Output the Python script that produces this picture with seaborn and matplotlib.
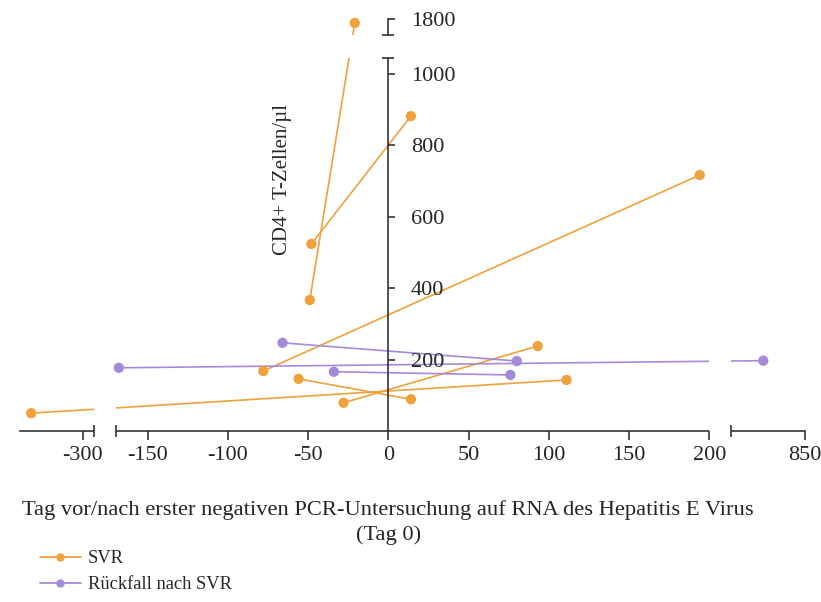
import numpy as np
import pandas as pd
import matplotlib
matplotlib.use("Agg")
import matplotlib.pyplot as plt
from matplotlib.lines import Line2D
import seaborn as sns

# values (two time points per patient)
patients = [1, 1, 2, 2, 3, 3, 4, 4, 5, 5, 6, 6, 7, 7, 8, 8, 9, 9]
groups = ["SVR"] * 12 + ["Rückfall nach SVR"] * 6
days = [-332, 111, -49, -21, -48, 14, -78, 194, -56, 14, -28, 93,
        -168, 824, -66, 80, -34, 76]
cd4 = [50, 143, 367, 1790, 524, 882, 168, 717, 146, 89, 79, 238,
       177, 197, 247, 196, 166, 157]

x_ticks = [-300, -150, -100, -50, 0, 50, 100, 150, 200, 850]
y_ticks = [200, 400, 600, 800, 1000, 1800]
group_order = ["SVR", "Rückfall nach SVR"]
colors = {"SVR": "#EFA13C", "Rückfall nach SVR": "#A68ADA"}

# broken axes: shown pieces of each axis
x_pieces = [(-339, -293), (-170, 200), (804, 850)]
y_pieces = [(0, 1045), (1755, 1800)]
x_gap = 13.6   # width of the x breaks in axis units
y_gap = 63     # height of the y break in axis units

df = pd.DataFrame({"patient": patients, "gruppe": groups, "tag": days, "cd4": cd4})


def broken_scale(pieces, gap):
    # piecewise linear map that squeezes the hidden parts into a fixed gap
    src, dst = [], []
    pos = 0.0
    for i, (a, b) in enumerate(pieces):
        if i == 0:
            pos = a
        src += [a, b]
        dst += [pos, pos + (b - a)]
        pos = pos + (b - a) + gap
    src = [src[0] - 1e6] + src + [src[-1] + 1e6]
    dst = [dst[0] - 1e6] + dst + [dst[-1] + 1e6]

    def fwd(v):
        return np.interp(np.asarray(v, float), src, dst)

    def inv(v):
        return np.interp(np.asarray(v, float), dst, src)
    return fwd, inv


sns.set_theme(style="white")
plt.rcParams["font.family"] = ["Liberation Serif", "DejaVu Serif"]
plt.rcParams["axes.unicode_minus"] = False

fig = plt.figure(figsize=(8.21, 6.02), dpi=100)
ax = fig.add_axes([20 / 821, 171 / 602, 785 / 821, 411.6 / 602])

sns.lineplot(data=df, x="tag", y="cd4", hue="gruppe", units="patient",
             estimator=None, palette=colors, hue_order=group_order,
             legend=False, lw=1.2, ax=ax)
sns.scatterplot(data=df, x="tag", y="cd4", hue="gruppe", palette=colors,
                hue_order=group_order, s=55, edgecolor="none", legend=False,
                zorder=4, clip_on=False, ax=ax)

ax.set_xscale("function", functions=broken_scale(x_pieces, x_gap))
ax.set_yscale("function", functions=broken_scale(y_pieces, y_gap))
ax.set_xlim(x_pieces[0][0], x_pieces[-1][1])
ax.set_ylim(0, y_pieces[-1][1])

# white bands make the breaks (they also cut the lines and the axis lines)
for (a, b), (c, d) in zip(x_pieces[:-1], x_pieces[1:]):
    ax.axvspan(b, c, ymin=-0.03, ymax=1, color="white", lw=0, zorder=2.6, clip_on=False)
ax.axhspan(y_pieces[0][1], y_pieces[1][0], color="white", lw=0, zorder=2.6)

for s in ["left", "top"]:
    ax.spines[s].set_visible(False)
ax.spines["bottom"].set_position(("data", 0))
ax.spines["right"].set_position(("data", 0))
ax.spines["bottom"].set_bounds(x_pieces[0][0], x_pieces[-1][1])
ax.spines["right"].set_bounds(0, y_pieces[-1][1])
for s in ["bottom", "right"]:
    ax.spines[s].set_color("#333333")
    ax.spines[s].set_linewidth(1.2)
    ax.spines[s].set_zorder(2.5)

ax.yaxis.tick_right()
ax.set_xticks(x_ticks, labels=[str(t) for t in x_ticks])
ax.set_yticks(y_ticks, labels=[str(t) for t in y_ticks])
# end caps at the breaks
ax.set_xticks([x_pieces[0][1], x_pieces[1][0], x_pieces[1][1], x_pieces[2][0]], minor=True)
ax.set_yticks([y_pieces[0][1], y_pieces[1][0]], minor=True)
ax.tick_params(axis="x", which="major", direction="out", length=6.5, width=1.2,
               color="#333333", labelsize=16, pad=4, bottom=True)
ax.tick_params(axis="y", which="major", direction="out", length=5, width=1.2,
               color="#333333", labelsize=16, pad=11, right=True, left=False)
ax.tick_params(which="minor", direction="inout", length=8, width=1.2,
               color="#333333", bottom=True, right=True, left=False)
ax.xaxis.set_zorder(3)
ax.yaxis.set_zorder(3)

ax.set_ylabel("CD4+ T-Zellen/µl", fontsize=15)
ax.yaxis.set_label_position("left")
ax.yaxis.set_label_coords(0.3465, 0.61)
ax.set_xlabel("Tag vor/nach erster negativen PCR-Untersuchung auf RNA des Hepatitis E Virus\n(Tag 0)",
              fontsize=16.2, linespacing=1.35)
ax.xaxis.set_label_coords(0.469, -0.168)

handles = [Line2D([], [], color=colors[g], lw=1.3, marker="o", markersize=6,
                  markeredgewidth=0) for g in group_order]
fig.legend(handles, group_order, loc="upper left", bbox_to_anchor=(40 / 821, 1 - 550 / 602),
           frameon=False, fontsize=13.3, handlelength=2.2, handletextpad=0.4,
           labelspacing=0.5, borderpad=0, borderaxespad=0)

fig.savefig("out.png", dpi=100)
